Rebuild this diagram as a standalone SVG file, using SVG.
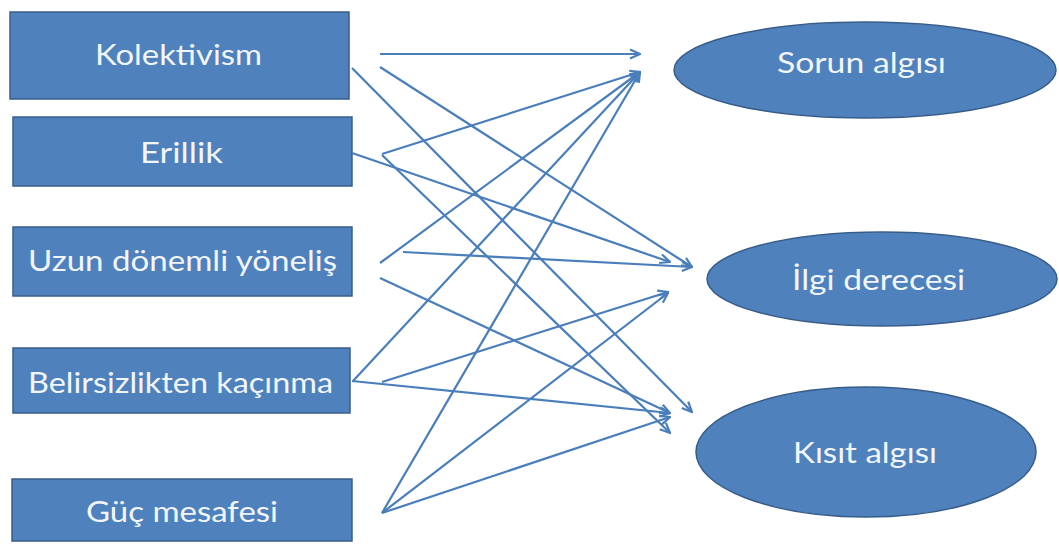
<svg xmlns="http://www.w3.org/2000/svg" width="1059" height="544" viewBox="0 0 1059 544">
  <style>
    .box { fill: #4f81bd; stroke: #385d8a; stroke-width: 1.5; }
    .oval { fill: #4f81bd; stroke: #385d8a; stroke-width: 1.5; }
    .lbl { font-family: Lato, "Open Sans", "Liberation Sans", sans-serif; font-size: 28px; fill: #f2f6fb; }
    .link { stroke: #4a7ebb; stroke-width: 2.2; fill: none; marker-end: url(#head); }
  </style>
  <defs>
    <marker id="head" viewBox="0 0 12 12" refX="11" refY="6" markerWidth="12" markerHeight="12" markerUnits="userSpaceOnUse" orient="auto">
      <path d="M1,1.5 L11,6 L1,10.5" fill="none" stroke="#4a7ebb" stroke-width="2.2" stroke-linejoin="miter"/>
    </marker>
  </defs>

  <rect width="1059" height="544" fill="#ffffff"/>

  <!-- source factors -->
  <g id="kolektivism">
    <rect class="box" x="10" y="12" width="339" height="87"/>
    <text class="lbl" x="95" y="65" textLength="167" lengthAdjust="spacingAndGlyphs">Kolektivism</text>
  </g>
  <g id="erillik">
    <rect class="box" x="13" y="117" width="339" height="69"/>
    <text class="lbl" x="140" y="163" textLength="83" lengthAdjust="spacingAndGlyphs">Erillik</text>
  </g>
  <g id="uzun-donemli">
    <rect class="box" x="13" y="227" width="339" height="69"/>
    <text class="lbl" x="28" y="271" textLength="309" lengthAdjust="spacingAndGlyphs">Uzun dönemli yöneliş</text>
  </g>
  <g id="belirsizlik">
    <rect class="box" x="13" y="348" width="337" height="65"/>
    <text class="lbl" x="28" y="393" textLength="305" lengthAdjust="spacingAndGlyphs">Belirsizlikten kaçınma</text>
  </g>
  <g id="guc-mesafesi">
    <rect class="box" x="12" y="479" width="340" height="62"/>
    <text class="lbl" x="86" y="522" textLength="192" lengthAdjust="spacingAndGlyphs">Güç mesafesi</text>
  </g>

  <!-- outcome perceptions -->
  <g id="sorun-algisi">
    <ellipse class="oval" cx="865" cy="70" rx="191" ry="48"/>
    <text class="lbl" x="777" y="73" textLength="169" lengthAdjust="spacingAndGlyphs">Sorun algısı</text>
  </g>
  <g id="ilgi-derecesi">
    <ellipse class="oval" cx="882" cy="279" rx="175" ry="47"/>
    <text class="lbl" x="792" y="290" textLength="173" lengthAdjust="spacingAndGlyphs">İlgi derecesi</text>
  </g>
  <g id="kisit-algisi">
    <ellipse class="oval" cx="866" cy="452" rx="170" ry="65"/>
    <text class="lbl" x="793" y="463" textLength="144" lengthAdjust="spacingAndGlyphs">Kısıt algısı</text>
  </g>

  <!-- paths from each factor to each perception -->
  <g id="connectors">
    <!-- Kolektivism -->
    <line class="link" x1="380" y1="54" x2="640" y2="54"/>
    <line class="link" x1="380" y1="67" x2="692" y2="267"/>
    <line class="link" x1="352" y1="68" x2="692" y2="412"/>
    <!-- Erillik -->
    <line class="link" x1="352" y1="153" x2="670" y2="262"/>
    <line class="link" x1="382" y1="154" x2="640" y2="72"/>
    <line class="link" x1="382" y1="155" x2="670" y2="433"/>
    <!-- Uzun dönemli yöneliş -->
    <line class="link" x1="380" y1="263" x2="640" y2="72"/>
    <line class="link" x1="403" y1="252" x2="692" y2="267"/>
    <line class="link" x1="380" y1="278" x2="670" y2="413"/>
    <!-- Belirsizlikten kaçınma -->
    <line class="link" x1="353" y1="381" x2="640" y2="72"/>
    <line class="link" x1="382" y1="382" x2="668" y2="292"/>
    <line class="link" x1="352" y1="381" x2="670" y2="413"/>
    <!-- Güç mesafesi -->
    <line class="link" x1="382" y1="513" x2="640" y2="72"/>
    <line class="link" x1="382" y1="513" x2="668" y2="293"/>
    <line class="link" x1="382" y1="513" x2="670" y2="417"/>
  </g>
</svg>
